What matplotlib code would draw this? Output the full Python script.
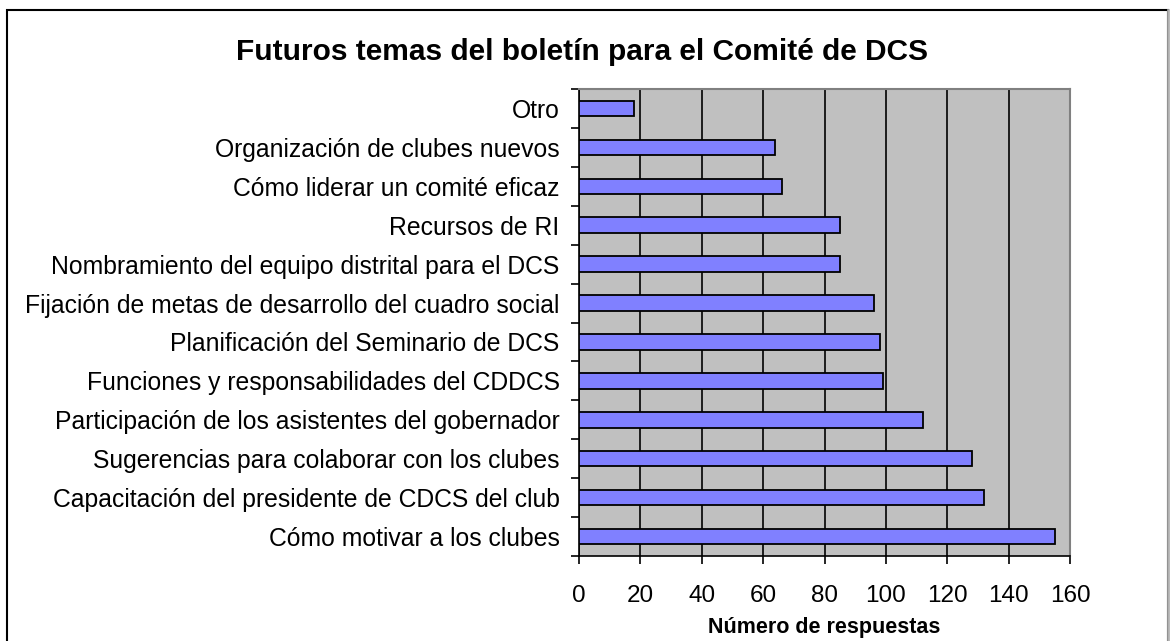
import matplotlib

matplotlib.use("Agg")
import matplotlib.pyplot as plt
from matplotlib.patches import Rectangle
import numpy as np

# bottom to top, as drawn
temas = [
    "Cómo motivar a los clubes",
    "Capacitación del presidente de CDCS del club",
    "Sugerencias para colaborar con los clubes",
    "Participación de los asistentes del gobernador",
    "Funciones y responsabilidades del CDDCS",
    "Planificación del Seminario de DCS",
    "Fijación de metas de desarrollo del cuadro social",
    "Nombramiento del equipo distrital para el DCS",
    "Recursos de RI",
    "Cómo liderar un comité eficaz",
    "Organización de clubes nuevos",
    "Otro",
]
respuestas = [155, 132, 128, 112, 99, 98, 96, 85, 85, 66, 64, 18]
x_ticks = [0, 20, 40, 60, 80, 100, 120, 140, 160]

plt.rcParams["font.family"] = ["Liberation Sans", "DejaVu Sans"]

W, H = 1170, 641
fig = plt.figure(figsize=(W / 100, H / 100), dpi=100)
ax = fig.add_axes([579 / W, 1 - 556 / H, (1070 - 579) / W, (556 - 89) / H])

# outer chart frame (bottom edge falls outside the picture)
fig.patches.append(Rectangle((7 / W, -0.05), (1168 - 7) / W, 1.05 - 10 / H,
                             transform=fig.transFigure, fill=False,
                             edgecolor="black", linewidth=1.5))
fig.patches.append(Rectangle((1168 / W, -0.05), 0.001, 1.05 - 10 / H,
                             transform=fig.transFigure, fill=False,
                             edgecolor="#b0b0b0", linewidth=1.2))

y = np.arange(len(temas))
ax.set_facecolor("#c0c0c0")
ax.set_axisbelow(True)
ax.xaxis.grid(True, color="black", linewidth=1.2)
ax.barh(y, respuestas, height=0.4, color="#8080ff", edgecolor="black",
        linewidth=1.3, zorder=3)

ax.set_xlim(0, 160)
ax.set_ylim(-0.5, len(temas) - 0.5)
ax.set_xticks(x_ticks)
ax.set_xticklabels([str(v) for v in x_ticks], fontsize=17.5)
ax.set_yticks(y)
ax.set_yticklabels(temas, fontsize=17.8)
ax.set_yticks(np.arange(-0.5, len(temas), 1), minor=True)
ax.tick_params(axis="y", which="major", length=0, pad=14)
ax.tick_params(axis="y", which="minor", length=6, width=1.2, direction="out")
ax.tick_params(axis="x", length=6, width=1.2, direction="out", pad=15)

for side in ("top", "right"):
    ax.spines[side].set_color("#808080")
    ax.spines[side].set_linewidth(1.5)
for side in ("left", "bottom"):
    ax.spines[side].set_color("black")
    ax.spines[side].set_linewidth(1.2)

ax.set_xlabel("Número de respuestas", fontsize=15.5, fontweight="bold", labelpad=7)
fig.text(582 / W, 1 - 52 / H, "Futuros temas del boletín para el Comité de DCS",
         fontsize=21.5, fontweight="bold", ha="center", va="center")

fig.savefig("out.png", dpi=100)
